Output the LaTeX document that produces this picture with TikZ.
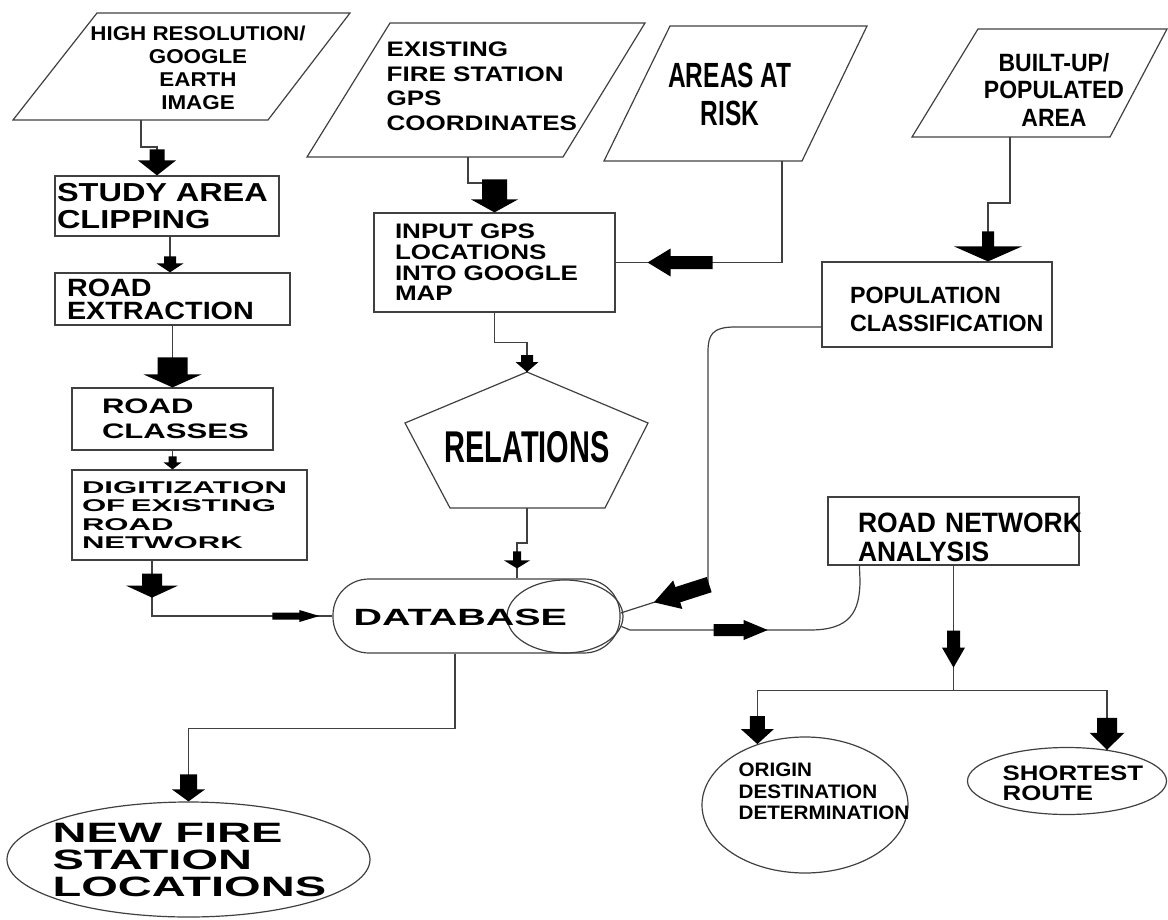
\documentclass[tikz,border=0pt]{standalone}
\usepackage{fontspec}
\setmainfont{Liberation Sans}
\usetikzlibrary{shapes.geometric, decorations.markings}
\newcommand\fs[3]{\fontsize{#1}{#2}\selectfont\addfontfeature{FakeStretch=#3}}
\tikzset{
  blk/.style n args={5}{postaction={decorate, decoration={markings,
      mark=at position #1 with {\fill[black] (-#2,-#5) -- (-#3,-#5) -- (-#3,-#4) -- (0,0) -- (-#3,#4) -- (-#3,#5) -- (-#2,#5) -- cycle;}}}},
}

\begin{document}
\begin{tikzpicture}[x=1pt, y=-1pt, line width=1.2pt, draw=black!75,
  box/.style={draw, rectangle, inner sep=0pt, align=left},
  oval/.style={draw, ellipse, inner sep=0pt},
  lbl/.style={inner sep=0pt, align=left, anchor=west}]
  % Page frame
  \useasboundingbox (0,0) rectangle (1168,919);

  % Image input
  \draw (97,13) -- (350,13) -- (268,120) -- (141,120) coordinate (hres-out) -- (13,120) -- cycle;
  \node[inner sep=0pt, align=center, font=\bfseries\fs{20}{23}{1.12}] (hres) at (198,68) {HIGH RESOLUTION/\\GOOGLE\\EARTH\\IMAGE};
  % Fire station coordinates
  \draw (390,23) -- (645,23) -- (563,157) -- (468,157) coordinate (exist-out) -- (307,157) -- cycle;
  \node[lbl, font=\bfseries\fs{21}{24.5}{1.24}] (exist) at (386,86.5) {EXISTING\\FIRE STATION\\GPS\\COORDINATES};
  % Areas at risk
  \draw (670,26) -- (867,26) -- (802,161) -- (782,161) coordinate (areas-out) -- (604,161) -- cycle;
  \node[inner sep=0pt, align=center, font=\bfseries\fs{35}{38}{0.7}] (areas) at (730,94) {AREAS AT\\RISK};
  % Built-up area
  \draw (978,29) -- (1167,29) -- (1110,137) -- (1010,137) coordinate (bld-out) -- (912,137) -- cycle;
  \node[inner sep=0pt, align=center, font=\bfseries\fs{25}{27.5}{0.92}] (bld) at (1054,89.5) {BUILT-UP/\\POPULATED\\AREA};

  % Road processing column
  \node[box, minimum width=224pt, minimum height=60pt, text width=220pt, font=\bfseries\fs{26}{27}{1.25}] (study) at (167,206) {\mbox{STUDY AREA}\\CLIPPING};
  \node[box, minimum width=235pt, minimum height=52pt, text width=211pt, font=\bfseries\fs{25}{23}{1.15}] (extr) at (172.5,299) {ROAD\\EXTRACTION};
  \node[box, minimum width=201pt, minimum height=62pt, text width=141pt, font=\bfseries\fs{21}{25}{1.48}] (cls) at (172.5,419) {ROAD\\CLASSES};
  \node[box, minimum width=235pt, minimum height=90pt, text width=215pt, font=\bfseries\fs{17}{18.5}{1.83}] (dig) at (189.5,515) {DIGITIZATION\\\mbox{OF EXISTING}\\ROAD\\NETWORK};

  % GPS input and relations
  \node[box, minimum width=241pt, minimum height=99pt, text width=199pt, font=\bfseries\fs{21}{20.7}{1.24}] (input) at (494.5,262.5) {\mbox{INPUT GPS}\\LOCATIONS\\\mbox{INTO GOOGLE}\\MAP};
  \draw (527,372) coordinate (rel-in) -- (648,423) -- (605,508) -- (527,508) coordinate (rel-out) -- (450,508) -- (405,423) -- cycle;
  \node[inner sep=0pt, font=\bfseries\fs{44.5}{46}{0.65}] (rel) at (527,447) {RELATIONS};

  % Population
  \node[box, minimum width=230pt, minimum height=85pt, text width=174pt, font=\bfseries\fs{23.5}{28}{0.99}] (pop) at (937,304.5) {\rule{0pt}{26pt}POPULATION\\CLASSIFICATION};

  % Database
  \node[draw, rounded corners=36pt, minimum width=287pt, minimum height=74pt] (db) at (476.5,616) {};
  \node[oval, minimum width=116pt, minimum height=73pt] (dbx) at (565,616.5) {};
  \node[lbl, font=\bfseries\fs{23.5}{25}{1.68}] (db-t) at (353,617) {DATABASE};

  % Network analysis and results
  \node[box, minimum width=251pt, minimum height=68pt, text width=191pt, font=\bfseries\fs{28}{29}{0.945}] (rna) at (953.5,531) {\rule{0pt}{33pt}\mbox{ROAD NETWORK}\\ANALYSIS};
  \node[oval, minimum width=206pt, minimum height=136pt] (odd) at (805,805) {};
  \node[lbl, font=\bfseries\fs{19.5}{21.5}{1.06}] (odd-t) at (738,791.5) {ORIGIN\\DESTINATION\\DETERMINATION};
  \node[oval, minimum width=199pt, minimum height=67pt] (sr) at (1067,781) {};
  \node[lbl, font=\bfseries\fs{21}{20}{1.23}] (sr-t) at (1002,783) {SHORTEST\\ROUTE};
  \node[oval, minimum width=363pt, minimum height=115pt] (new) at (188.5,859.5) {};
  \node[lbl, font=\bfseries\fs{28}{27}{1.68}] (new-t) at (52,860) {NEW FIRE\\STATION\\LOCATIONS};

  % Left column links
  \draw[blk={1}{26}{15}{19}{7.5}] (hres-out) -- ++(0,27) -| ([xshift=-10pt]study.north);
  \draw[blk={1}{16}{9}{13.5}{6}] ([xshift=3pt]study.south) -- ([xshift=-2.5pt]extr.north);
  \draw[blk={1}{30}{13}{29}{15}] (extr.south) -- (cls.north);
  \draw[blk={1}{13}{7}{9}{4}] (cls.south) -- (cls.south |- dig.north);
  \draw[blk={37pt}{24}{12}{26}{10}, blk={-13pt}{47}{20}{6}{3.5}] ([xshift=-37.5pt]dig.south) |- (db.west);

  % Middle links
  \draw[blk={1}{33}{13}{23.5}{12.5}] (exist-out) -- ++(0,26) -| (input.north);
  \draw[blk={-32pt}{65}{23}{14}{6.5}] (areas-out) |- (input.east);
  \draw[blk={1}{17}{10}{11.5}{6}] (input.south) -- ++(0,30) -| (rel-in);
  \draw[blk={-10pt}{17}{8}{13}{4}] (rel-out) -- ++(0,35) -| ([xshift=40.5pt]db.north);

  % Right links
  \draw[blk={1}{30}{15}{34}{6}] (bld-out) -- ++(0,66) -| ([xshift=51pt]pop.north);
  \draw[blk={-35pt}{58}{25}{15}{8}] ([yshift=-22.5pt]pop.west) -- (735,327) .. controls (712,327) and (708,335) .. (708,352) -- (708,585) -- ([yshift=3pt]db.east);
  \draw[blk={147pt}{54}{24}{10}{6}] (dbx.-10) -- (630,630) -- (810,630) .. controls (850,630) and (860,612) .. (860,580) -- ([xshift=32pt]rna.south west);
  \draw[blk={-23pt}{37}{20}{11.5}{6.5}] (rna.south) -- ++(0,125) coordinate (split);
  \draw[blk={1}{28}{15}{16.5}{7.5}] (split) -| (odd.128);
  \draw[blk={1}{32}{17}{17.5}{10}] (split) -| (sr.38);
  \draw[blk={1}{27}{12}{16.5}{8.5}] ([xshift=-21.5pt]db.south) -- ++(0,75) -| (new.north);
\end{tikzpicture}
\end{document}
